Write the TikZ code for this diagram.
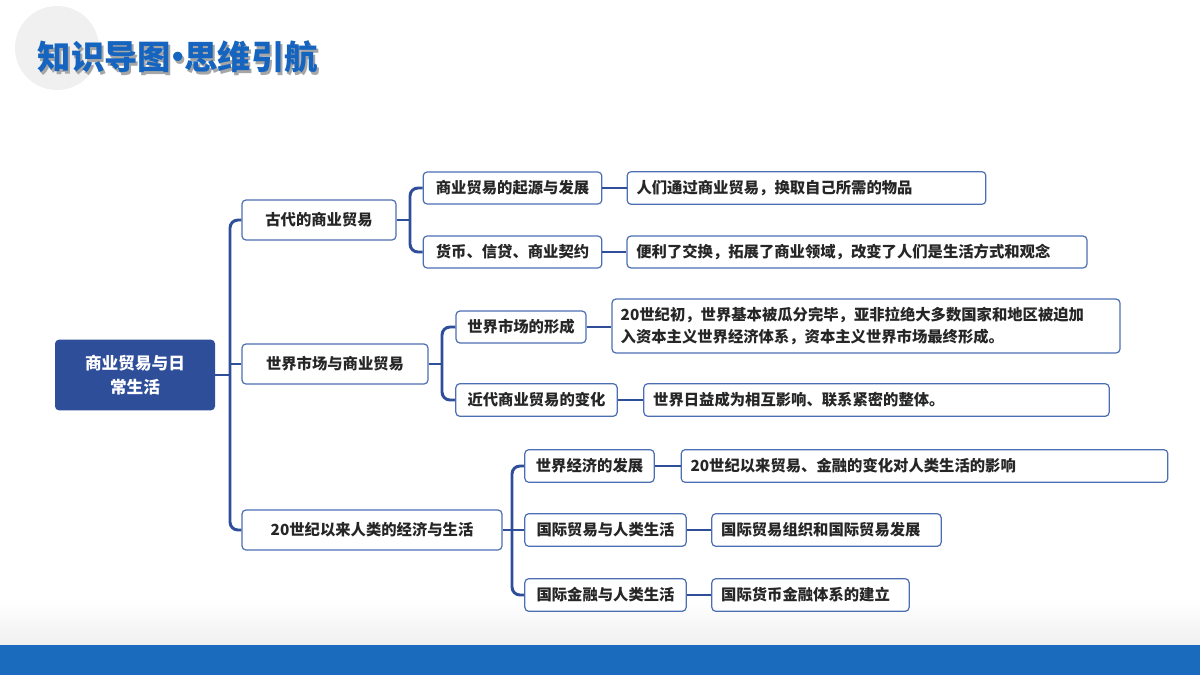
\documentclass[tikz,border=0pt]{standalone}
\usepackage{fontspec}
\newfontfamily\cjk{Noto Sans CJK SC}
\newfontfamily\cjkb{Noto Sans CJK SC Black}
\usetikzlibrary{shadows}
\definecolor{dk}{HTML}{2F4E9A}
\definecolor{bd}{HTML}{4C6FB3}
\definecolor{tb}{HTML}{1565C0}
\definecolor{band}{HTML}{1A6BBE}
\newcommand{\ttl}{知识导图\kern-0.3em·\kern-0.3em思维引航}
\begin{document}
\begin{tikzpicture}[x=0.75pt,y=-0.75pt,
  bx/.style={draw=bd,line width=0.9pt,fill=white,rounded corners=3pt,inner sep=0pt,
    font=\cjk\fontsize{11.5pt}{15pt}\selectfont\bfseries,text=black!85},
  ln/.style={draw=dk,line width=2.2pt,rounded corners=6pt}]
\path[use as bounding box] (0,0) rectangle (1200,675);
\fill[white] (0,0) rectangle (1200,675);
\shade[top color=white,bottom color=black!6] (0,600) rectangle (1200,645);
\fill[band] (0,645) rectangle (1200,675);
\fill[black!6] (57,48) circle (42);
\node[anchor=west,text=black!35,font=\cjkb\fontsize{25pt}{28pt}\selectfont] at (35,60) {\ttl};
\node[anchor=west,text=tb,font=\cjkb\fontsize{25pt}{28pt}\selectfont] (title) at (33,57) {\ttl};
% root
\node[fill=dk,rounded corners=3pt,minimum width=120pt,minimum height=53pt,text=white,align=center,
  font=\cjk\fontsize{12.5pt}{18pt}\selectfont\bfseries] (root) at (135,375) {商业贸易与日\\常生活};
% level 1
\node[bx,minimum width=115.5pt,minimum height=30pt] (A) at (319,220) {古代的商业贸易};
\node[bx,minimum width=139.5pt,minimum height=30pt] (B) at (335,364) {世界市场与商业贸易};
\node[bx,minimum width=195pt,minimum height=30pt] (C) at (372,530) {20世纪以来人类的经济与生活};
% level 2
\node[bx,minimum width=134pt,minimum height=24pt] (A1) at (512.5,188) {商业贸易的起源与发展};
\node[bx,minimum width=134pt,minimum height=24pt] (A2) at (512.5,252) {货币、信贷、商业契约};
\node[bx,minimum width=97.5pt,minimum height=24pt] (B1) at (521,327) {世界市场的形成};
\node[bx,minimum width=121pt,minimum height=24.5pt] (B2) at (536.5,400) {近代商业贸易的变化};
\node[bx,minimum width=97pt,minimum height=24.5pt] (C1) at (589.5,466) {世界经济的发展};
\node[bx,minimum width=121pt,minimum height=24.5pt] (C2) at (605.5,530) {国际贸易与人类生活};
\node[bx,minimum width=121pt,minimum height=24.5pt] (C3) at (605.5,595) {国际金融与人类生活};
% level 3
\node[bx,minimum width=269pt,minimum height=24.5pt,text width=255pt,align=left] (A1x) at (806.5,188) {人们通过商业贸易，换取自己所需的物品};
\node[bx,minimum width=345pt,minimum height=24pt,text width=331pt,align=left] (A2x) at (857,252) {便利了交换，拓展了商业领域，改变了人们是生活方式和观念};
\node[bx,minimum width=381pt,minimum height=40.5pt,text width=368pt,align=left,font=\cjk\fontsize{11.5pt}{17pt}\selectfont\bfseries] (B1x) at (866,326) {20世纪初，世界基本被瓜分完毕，亚非拉绝大多数国家和地区被迫加\\入资本主义世界经济体系，资本主义世界市场最终形成。};
\node[bx,minimum width=349pt,minimum height=24.5pt,text width=335pt,align=left] (B2x) at (876.5,400) {世界日益成为相互影响、联系紧密的整体。};
\node[bx,minimum width=365pt,minimum height=24.5pt,text width=351pt,align=left] (C1x) at (924.5,466) {20世纪以来贸易、金融的变化对人类生活的影响};
\node[bx,minimum width=172pt,minimum height=24.5pt,text width=158pt,align=left] (C2x) at (826.5,530) {国际贸易组织和国际贸易发展};
\node[bx,minimum width=148pt,minimum height=24.5pt,text width=134pt,align=left] (C3x) at (810.5,595) {国际货币金融体系的建立};
% connectors
\draw[ln] (root.east) -- (230,375);
\draw[ln] (A.west) -- (230,220) -- (230,530) -- (C.west);
\draw[ln] (B.west) -- (230,364);
\draw[ln] (A.east) -- (410,220);
\draw[ln] (A1.west) -- (410,188) -- (410,252) -- (A2.west);
\draw[ln] (B.east) -- (442,364);
\draw[ln] (B1.west) -- (442,327) -- (442,400) -- (B2.west);
\draw[ln] (C.east) -- (512,530);
\draw[ln] (C1.west) -- (512,466) -- (512,595) -- (C3.west);
\draw[ln] (C2.west) -- (512,530);
\draw[ln] (A1) -- (A1x);
\draw[ln] (A2) -- (A2x);
\draw[ln] (B1) -- (B1.east -| B1x.west);
\draw[ln] (B2) -- (B2x);
\draw[ln] (C1) -- (C1x);
\draw[ln] (C2) -- (C2x);
\draw[ln] (C3) -- (C3x);
\end{tikzpicture}
\end{document}
